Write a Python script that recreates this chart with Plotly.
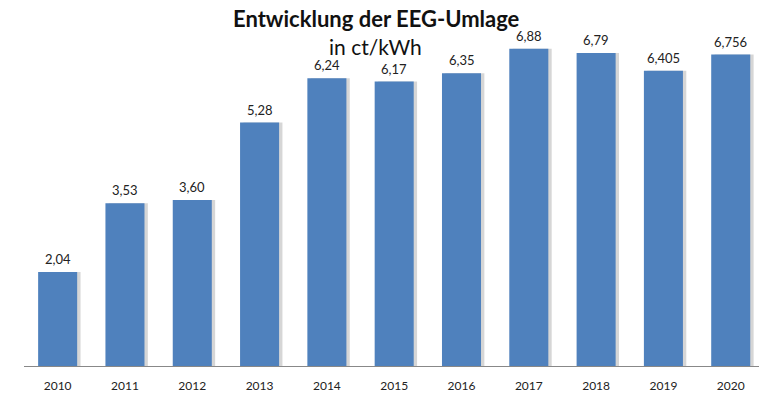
import plotly.graph_objects as go

years = ["2010", "2011", "2012", "2013", "2014", "2015", "2016", "2017", "2018", "2019", "2020"]
values = [2.04, 3.53, 3.60, 5.28, 6.24, 6.17, 6.35, 6.88, 6.79, 6.405, 6.756]
labels = ["2,04", "3,53", "3,60", "5,28", "6,24", "6,17", "6,35", "6,88", "6,79", "6,405", "6,756"]

xs = list(range(len(years)))
W, H = 759, 398
ml, mr, mt, mb = 24, 0, 21, 32
yr = (H - mt - mb) / 46.1
FONT = "Lato, DejaVu Sans"

fig = go.Figure()
# soft shadow
fig.add_trace(go.Bar(x=xs, y=values, width=0.58, offset=-0.29 + 0.05,
                     marker=dict(color="rgba(0,0,0,0.16)", line=dict(width=0)),
                     hoverinfo="skip", showlegend=False))
fig.add_trace(go.Bar(x=xs, y=values, width=0.58, offset=-0.29,
                     marker=dict(color="#4F81BD", line=dict(width=0)),
                     showlegend=False))

annos = [
    dict(text="<b>Entwicklung der EEG-Umlage</b>", xref="paper", yref="paper",
         x=(376 - ml) / (W - ml - mr), y=(H - mb - 18) / (H - mt - mb),
         yanchor="middle", xanchor="center", showarrow=False,
         font=dict(family=FONT, size=22, color="#111")),
    dict(text="in ct/kWh", xref="paper", yref="paper",
         x=(375 - ml) / (W - ml - mr), y=(H - mb - 46) / (H - mt - mb),
         yanchor="middle", xanchor="center", showarrow=False,
         font=dict(family=FONT, size=21, color="#111")),
]
for xv, v, t in zip(xs, values, labels):
    annos.append(dict(x=xv, y=v, xref="x", yref="y", text=t, showarrow=False,
                      yanchor="bottom", xanchor="center", yshift=3,
                      font=dict(family=FONT, size=13, color="#222")))

fig.update_layout(
    width=W, height=H, barmode="overlay",
    margin=dict(l=ml, r=mr, t=mt, b=mb),
    paper_bgcolor="white", plot_bgcolor="white",
    xaxis=dict(range=[-0.5, 10.42], tickmode="array", tickvals=xs, ticktext=years,
               showgrid=False, showline=True, linecolor="#888", linewidth=1,
               ticks="", ticklabelstandoff=9,
               tickfont=dict(family=FONT, size=12, color="#222"),
               zeroline=False),
    yaxis=dict(range=[0, yr], visible=False, showgrid=False, zeroline=False),
    annotations=annos,
)

fig.write_html("out.html", config={"displayModeBar": False},
               post_script="document.body.style.margin='0';document.body.style.overflow='hidden';")
